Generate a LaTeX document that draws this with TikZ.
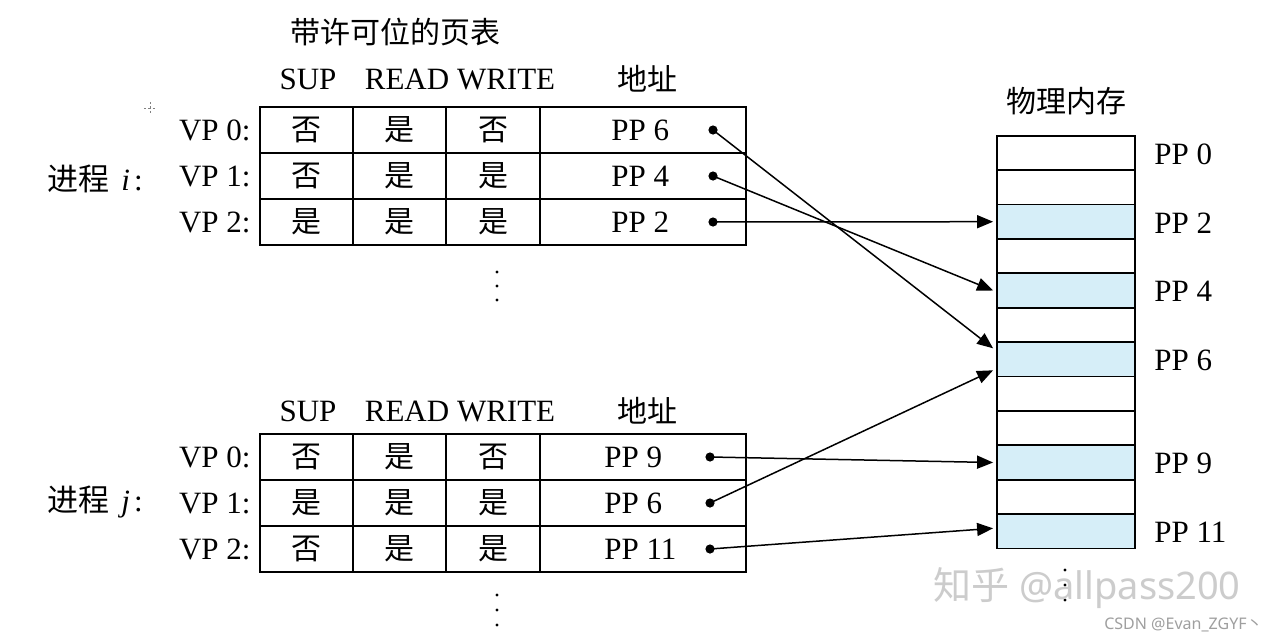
\documentclass[tikz,border=0pt]{standalone}
\usepackage{fontspec}
\setmainfont{Liberation Serif}
\newfontfamily\cjk{Noto Sans CJK SC}
\newfontfamily\wmfont{Noto Sans}
\usetikzlibrary{arrows.meta,calc}
\definecolor{memblue}{RGB}{214,238,248}
\tikzset{
  cell/.style={draw, line width=0.9pt, minimum height=23pt, inner sep=0pt,
               font=\cjk\fontsize{15pt}{17pt}\selectfont},
  lbl/.style={font=\fontsize{15.5pt}{18pt}\selectfont, inner sep=0pt},
  cjklbl/.style={font=\cjk\fontsize{15pt}{18pt}\selectfont, inner sep=0pt},
  memrow/.style={draw, line width=0.9pt, minimum width=69pt, minimum height=17.2pt, inner sep=0pt},
  dotnode/.style={circle, fill, inner sep=0pt, minimum size=4.6pt},
  link/.style={line width=0.75pt, -{Triangle[length=8pt,width=6.5pt]}},
  smalldot/.style={circle, fill, inner sep=0pt, minimum size=1.6pt},
}
\begin{document}
\begin{tikzpicture}[x=0.5pt,y=-0.5pt]
\useasboundingbox (0,0) rectangle (1276,643);
\fill[white] (0,0) rectangle (1276,643);

% ---------- top page table ----------
\node[cjklbl] (title) at (395,32) {带许可位的页表};
\node[lbl] (hsupa) at (308,79) {SUP};
\node[lbl] (hrwa) at (460,79) {READ WRITE};
\node[cjklbl] (hadra) at (647,79) {地址};

\foreach [count=\r] \y/\v/\s/\rd/\w/\pp in {130/0/否/是/否/6, 176/1/否/是/是/4, 222/2/是/是/是/2} {
  \node[lbl, anchor=east] (va-\r) at (251,\y) {VP \v:};
  \node[cell, minimum width=46.5pt] (ta-\r-1) at (306.5,\y) {\s};
  \node[cell, minimum width=46.5pt] (ta-\r-2) at (399.5,\y) {\rd};
  \node[cell, minimum width=47pt]   (ta-\r-3) at (493,\y) {\w};
  \node[cell, minimum width=103pt]  (ta-\r-4) at (643,\y) {};
  \node[lbl, anchor=west] (aa-\r) at (611,\y) {PP \pp};
  \node[dotnode] (da-\r) at (713,\y) {};
}
\node[lbl, anchor=west] (proci) at (47,179) {{\cjk 进程}\hspace{6pt}\textit{i}\hspace{2pt}:};
\node[smalldot] (ea1) at (497,272) {};
\node[smalldot] (ea2) at (497,286) {};
\node[smalldot] (ea3) at (497,300) {};

% ---------- bottom page table ----------
\node[lbl] (hsupb) at (308,411) {SUP};
\node[lbl] (hrwb) at (460,411) {READ WRITE};
\node[cjklbl] (hadrb) at (647,411) {地址};

\foreach [count=\r] \y/\v/\s/\rd/\w/\pp in {457/0/否/是/否/9, 503/1/是/是/是/6, 549/2/否/是/是/11} {
  \node[lbl, anchor=east] (vb-\r) at (251,\y) {VP \v:};
  \node[cell, minimum width=46.5pt] (tb-\r-1) at (306.5,\y) {\s};
  \node[cell, minimum width=46.5pt] (tb-\r-2) at (399.5,\y) {\rd};
  \node[cell, minimum width=47pt]   (tb-\r-3) at (493,\y) {\w};
  \node[cell, minimum width=103pt]  (tb-\r-4) at (643,\y) {};
  \node[lbl, anchor=west] (ab-\r) at (604,\y) {PP \pp};
  \node[dotnode] (db-\r) at (710,\y) {};
}
\node[lbl, anchor=west] (procj) at (47,502) {{\cjk 进程}\hspace{6pt}\textit{j}\hspace{2pt}:};
\node[smalldot] (eb1) at (497,595) {};
\node[smalldot] (eb2) at (497,610) {};
\node[smalldot] (eb3) at (497,625) {};

% ---------- physical memory ----------
\node[cjklbl] (memtitle) at (1066,101) {物理内存};
\foreach \k/\f in {0/white,1/white,2/memblue,3/white,4/memblue,5/white,6/memblue,7/white,8/white,9/memblue,10/white,11/memblue} {
  \node[memrow, fill=\f] (m\k) at (1066,{152.9+34.4*\k}) {};
}
\foreach \k in {0,2,4,6,9,11} {
  \node[lbl, anchor=west] (ml\k) at (1154,{154+34.4*\k}) {PP \k};
}
\node[smalldot] (em1) at (1065,570) {};
\node[smalldot] (em2) at (1065,585) {};
\node[smalldot] (em3) at (1065,600) {};

% ---------- mappings ----------
\draw[link] (da-1.center) -- ($(m6.west)+(-3,-11)$);
\draw[link] (da-2.center) -- ($(m4.west)+(-3,0)$);
\draw[link] (da-3.center) -- ($(m2.west)+(-3,0)$);
\draw[link] (db-1.center) -- ($(m9.west)+(-3,0)$);
\draw[link] (db-2.center) -- ($(m6.west)+(-3,11)$);
\draw[link] (db-3.center) -- ($(m11.west)+(-3,-3)$);

% ---------- marks / watermarks ----------
\draw[gray, line width=0.4pt, dash pattern=on 1.2pt off 1pt] (144,108) -- (156,108) (150,102) -- (150,114);
\node[font=\wmfont\fontsize{19pt}{22pt}\selectfont, text=gray!40, inner sep=0pt] (wm) at (1087,588) {{\cjk 知乎} @allpass200};
\node[font=\wmfont\fontsize{8pt}{10pt}\selectfont, text=gray!75, inner sep=0pt, anchor=east] (csdn) at (1263,625) {CSDN @Evan\_ZGYF{\cjk 丶}};
\end{tikzpicture}
\end{document}
